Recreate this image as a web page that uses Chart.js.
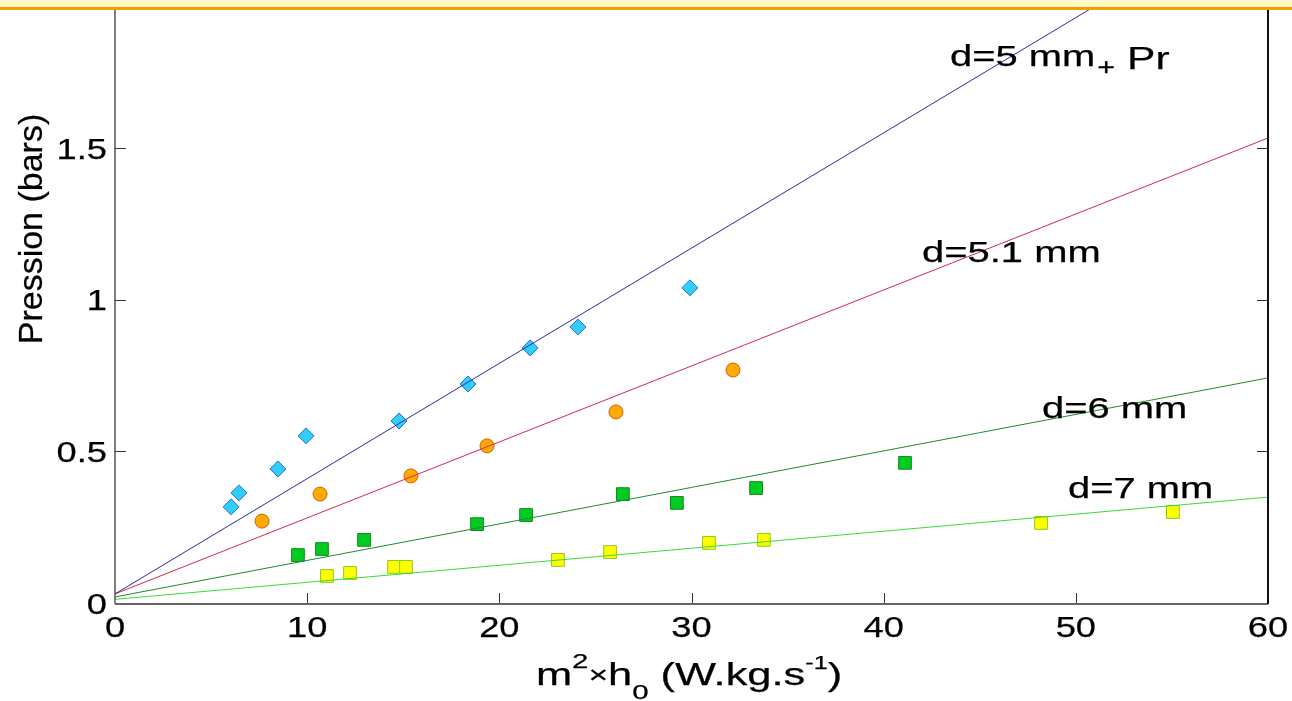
<!DOCTYPE html>
<html><head><meta charset="utf-8">
<script src="https://cdn.jsdelivr.net/npm/chart.js@4/dist/chart.umd.min.js"></script>
<style>html,body{margin:0;padding:0;background:#fff;overflow:hidden}#wrap{width:1292px;height:701px;position:relative}</style>
</head><body><div id="wrap"><canvas id="c" width="1292" height="701"></canvas></div>
<script>
// ---- data ----
const xTicks = [0, 10, 20, 30, 40, 50, 60];
const yTicks = [0, 0.5, 1, 1.5];
const yTitle = 'Pression (bars)';
const seriesLabels = ['d=5 mm + Pr', 'd=5.1 mm', 'd=6 mm', 'd=7 mm'];

// measured points
const d5x  = [6.04, 6.45, 8.48, 9.94, 14.78, 18.37, 21.6, 24.09, 29.92];
const d5y  = [0.317, 0.363, 0.442, 0.551, 0.600, 0.722, 0.841, 0.910, 1.039];
const d51x = [7.65, 10.67, 15.40, 19.36, 26.07, 32.16];
const d51y = [0.270, 0.359, 0.419, 0.518, 0.630, 0.768];
const d6x  = [9.52, 10.77, 12.96, 18.84, 21.39, 26.43, 29.24, 33.36, 41.11];
const d6y  = [0.158, 0.178, 0.208, 0.260, 0.290, 0.359, 0.330, 0.379, 0.462];
const d7x  = [11.03, 12.23, 14.52, 15.14, 23.05, 25.76, 30.91, 33.77, 48.19, 55.05];
const d7y  = [0.089, 0.099, 0.119, 0.119, 0.142, 0.168, 0.198, 0.208, 0.264, 0.300];

// fitted lines (end points)
const fitX   = [0, 60];
const fit5y  = [0.03, 2.31];
const fit51y = [0.03, 1.533];
const fit6y  = [0.02, 0.742];
const fit7y  = [0.012, 0.349];

const yMax = 1.955;

const pts = (xs, ys) => xs.map((x, i) => ({x, y: ys[i]}));

const FONT = '"Liberation Sans", Arial, Helvetica, sans-serif';
function sText(ctx, txt, x, y, size, sx, align) {
  ctx.save();
  ctx.font = size + 'px ' + FONT;
  ctx.textBaseline = 'alphabetic';
  const w = ctx.measureText(txt).width * sx;
  let left = x;
  if (align === 'center') left = x - w / 2;
  else if (align === 'right') left = x - w;
  ctx.translate(left, y);
  ctx.scale(sx, 1);
  ctx.textAlign = 'left';
  ctx.fillStyle = '#000';
  ctx.strokeStyle = '#000';
  ctx.lineWidth = 0.25;
  ctx.fillText(txt, 0, 0);
  ctx.strokeText(txt, 0, 0);
  ctx.restore();
  return w;
}

const decor = {
  id: 'decor',
  afterDraw(chart) {
    const ctx = chart.ctx, xs = chart.scales.x, ys = chart.scales.y, a = chart.chartArea;
    ctx.save();
    // axes lines
    ctx.strokeStyle = '#555'; ctx.lineWidth = 1.5;
    ctx.beginPath(); ctx.moveTo(a.left, a.top); ctx.lineTo(a.left, a.bottom + 1); ctx.stroke();
    ctx.lineWidth = 2; ctx.strokeStyle = '#666';
    ctx.beginPath(); ctx.moveTo(a.left, a.bottom + 1); ctx.lineTo(a.right, a.bottom + 1); ctx.stroke();
    ctx.strokeStyle = '#111'; ctx.lineWidth = 2;
    ctx.beginPath(); ctx.moveTo(a.right, a.top); ctx.lineTo(a.right, a.bottom + 1); ctx.stroke();
    // inward tick marks
    ctx.lineWidth = 1; ctx.strokeStyle = '#333';
    ys.ticks.forEach(t => {
      if (t.value === 0) return;
      const py = Math.round(ys.getPixelForValue(t.value)) + 0.5;
      ctx.beginPath(); ctx.moveTo(a.left, py); ctx.lineTo(a.left + 11, py); ctx.stroke();
      ctx.beginPath(); ctx.moveTo(a.right, py); ctx.lineTo(a.right - 11, py); ctx.stroke();
    });
    xs.ticks.forEach(t => {
      if (t.value === 0 || t.value === 60) return;
      const px = Math.round(xs.getPixelForValue(t.value)) + 0.5;
      ctx.beginPath(); ctx.moveTo(px, a.bottom); ctx.lineTo(px, a.bottom - 10); ctx.stroke();
    });
    // tick labels
    ys.ticks.forEach(t => {
      const py = ys.getPixelForValue(t.value);
      sText(ctx, String(t.value), a.left - 8, py + 10.5, 29, 1.25, 'right');
    });
    xs.ticks.forEach(t => {
      const px = xs.getPixelForValue(t.value);
      sText(ctx, String(t.value), px, a.bottom + 34, 29, 1.25, 'center');
    });
    // y title (rotated)
    ctx.save();
    ctx.translate(42, 229);
    ctx.rotate(-Math.PI / 2);
    ctx.font = '34px ' + FONT;
    ctx.textAlign = 'center';
    ctx.textBaseline = 'alphabetic';
    ctx.fillStyle = '#000'; ctx.strokeStyle = '#000'; ctx.lineWidth = 0.25;
    ctx.fillText(yTitle, 0, 0);
    ctx.strokeText(yTitle, 0, 0);
    ctx.restore();
    // x title with super/subscripts
    const parts = [
      {t: 'm', s: 31, dy: 0}, {t: '2', s: 21, dy: -17}, {t: '×', s: 24, dy: -2},
      {t: 'h', s: 31, dy: 0}, {t: '0', s: 21, dy: 14}, {t: ' (W.kg.s', s: 31, dy: 0},
      {t: '-1', s: 18, dy: -16}, {t: ')', s: 31, dy: 0}
    ];
    const sx = 1.4;
    let total = 0;
    parts.forEach(p => { ctx.font = p.s + 'px ' + FONT; p.w = ctx.measureText(p.t).width * sx; total += p.w; });
    let cx = 689 - total / 2;
    parts.forEach(p => { sText(ctx, p.t, cx, 685 + p.dy, p.s, sx, 'left'); cx += p.w; });
    // line annotations
    const X = v => xs.getPixelForValue(v), Y = v => ys.getPixelForValue(v);
    let w = sText(ctx, 'd=5 mm', X(43.45), Y(1.771), 30, 1.33, 'left');
    let w2 = sText(ctx, '+', X(43.45) + w + 2, Y(1.771) + 9, 23, 1.33, 'left');
    sText(ctx, 'Pr', X(43.45) + w + w2 + 14, Y(1.771) + 3, 32, 1.33, 'left');
    sText(ctx, 'd=5.1 mm', X(42.0), Y(1.124), 30, 1.33, 'left');
    sText(ctx, 'd=6 mm', X(48.24), Y(0.610), 30, 1.33, 'left');
    sText(ctx, 'd=7 mm', X(49.59), Y(0.346), 30, 1.33, 'left');
    // top band
    ctx.fillStyle = '#FFF9C8';
    ctx.fillRect(0, 0, chart.width, 7);
    ctx.fillStyle = '#FF9A00';
    ctx.fillRect(0, 7, chart.width, 3);
    ctx.restore();
  }
};

new Chart(document.getElementById('c'), {
  type: 'scatter',
  data: {
    datasets: [
      {type: 'line', label: seriesLabels[0] + ' fit', data: pts(fitX, fit5y), borderColor: '#2a2aae', borderWidth: 1, pointRadius: 0, order: 0},
      {type: 'line', label: seriesLabels[1] + ' fit', data: pts(fitX, fit51y), borderColor: '#d22a4c', borderWidth: 1, pointRadius: 0, order: 0},
      {type: 'line', label: seriesLabels[2] + ' fit', data: pts(fitX, fit6y), borderColor: '#1e8a30', borderWidth: 1, pointRadius: 0, order: 0},
      {type: 'line', label: seriesLabels[3] + ' fit', data: pts(fitX, fit7y), borderColor: '#3cd83c', borderWidth: 1, pointRadius: 0, order: 0},
      {label: seriesLabels[0], data: pts(d5x, d5y), pointStyle: 'rectRot', pointRadius: 8, backgroundColor: '#33ccff', borderColor: '#2a72c8', borderWidth: 1, order: 1},
      {label: seriesLabels[1], data: pts(d51x, d51y), pointStyle: 'circle', pointRadius: 7, backgroundColor: '#ffaa00', borderColor: '#d85a10', borderWidth: 1, order: 1},
      {label: seriesLabels[2], data: pts(d6x, d6y), pointStyle: 'rect', pointRadius: 9, backgroundColor: '#00cc22', borderColor: '#138a1a', borderWidth: 1, order: 1},
      {label: seriesLabels[3], data: pts(d7x, d7y), pointStyle: 'rect', pointRadius: 9, backgroundColor: '#ffff00', borderColor: '#8ccc10', borderWidth: 1, order: 1}
    ]
  },
  options: {
    responsive: false,
    animation: false,
    layout: {padding: {left: 0, right: 24, top: 10, bottom: 0}},
    plugins: {legend: {display: false}, tooltip: {enabled: false}},
    scales: {
      x: {
        type: 'linear', min: 0, max: 60,
        grid: {display: false, drawTicks: false}, border: {display: false},
        ticks: {display: false},
        afterBuildTicks: s => { s.ticks = xTicks.map(v => ({value: v})); },
        afterFit: s => { s.height = 98; }
      },
      y: {
        type: 'linear', min: 0, max: yMax,
        grid: {display: false, drawTicks: false}, border: {display: false},
        ticks: {display: false},
        afterBuildTicks: s => { s.ticks = yTicks.map(v => ({value: v})); },
        afterFit: s => { s.width = 115; }
      }
    }
  },
  plugins: [decor]
});
</script></body></html>
